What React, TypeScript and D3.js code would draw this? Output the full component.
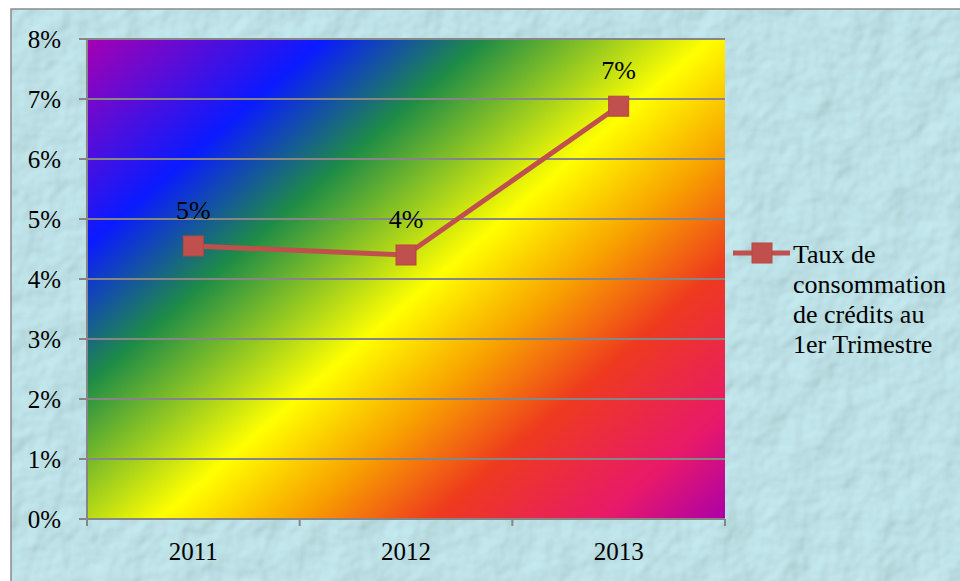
import React from "react";
import * as d3 from "d3";

const categories = ["2011", "2012", "2013"];
const values = [0.0455, 0.044, 0.0688];
const labels = ["5%", "4%", "7%"];
const yTicks = [0, 0.01, 0.02, 0.03, 0.04, 0.05, 0.06, 0.07, 0.08];
const seriesName = ["Taux de", "consommation", "de crédits au", "1er Trimestre"];
const gradientStops: [number, string][] = [
  [0, "#a600b2"],
  [0.2, "#0a1aff"],
  [0.335, "#1e8c46"],
  [0.525, "#ffff00"],
  [0.64, "#f8a200"],
  [0.755, "#ee3a1e"],
  [0.9, "#e8196a"],
  [1, "#ac00a8"],
];

const W = 960;
const H = 581;
const M = { left: 87, right: 725, top: 39, bottom: 519 };
const FONT = "Liberation Serif, Times New Roman, DejaVu Serif, serif";

export default function App() {
  const x = d3.scaleBand<string>().domain(categories).range([M.left, M.right]).padding(0);
  const y = d3.scaleLinear().domain([0, 0.08]).range([M.bottom, M.top]);
  const cxOf = (i: number) => (x(categories[i]) as number) + x.bandwidth() / 2;
  const line = d3
    .line<number>()
    .x((_, i) => cxOf(i))
    .y((d) => y(d));
  const edges = [...categories.map((c) => x(c) as number), M.right];
  const gLen = 780;
  const gx2 = M.left + 0.656 * gLen;
  const gy2 = M.top + 0.754 * gLen;
  const txt = { fontFamily: FONT, fontSize: "25px", fill: "#000" } as React.CSSProperties;
  const txtL = { fontFamily: FONT, fontSize: "26px", fill: "#000" } as React.CSSProperties;
  return (
    <svg width={W} height={H} style={{ position: "absolute", left: 0, top: 0 }}>
      <defs>
        <linearGradient
          id="rainbow"
          gradientUnits="userSpaceOnUse"
          x1={M.left}
          y1={M.top}
          x2={gx2}
          y2={gy2}
        >
          {gradientStops.map(([o, c], i) => (
            <stop key={i} offset={o} stopColor={c} />
          ))}
        </linearGradient>
        <filter id="water" x="0" y="0" width="100%" height="100%">
          <feTurbulence type="fractalNoise" baseFrequency="0.03" numOctaves="3" seed="4" result="n" />
          <feDiffuseLighting in="n" lightingColor="#e4fbfd" surfaceScale="4" result="l">
            <feDistantLight azimuth="225" elevation="50" />
          </feDiffuseLighting>
          <feComposite in="l" in2="SourceGraphic" operator="in" />
        </filter>
      </defs>
      <rect x={0} y={0} width={W} height={H} fill="#ffffff" />
      <rect x={11} y={9} width={W} height={H} fill="#b3e2e9" />
      <rect x={11} y={9} width={W} height={H} fill="#b3e2e9" filter="url(#water)" opacity={0.4} />
      <rect x={11} y={9} width={W + 10} height={H + 10} fill="none" stroke="#8a8a8a" strokeWidth={1.5} />

      <rect x={M.left} y={M.top} width={M.right - M.left} height={M.bottom - M.top} fill="url(#rainbow)" />

      {yTicks.map((t) => (
        <g key={t}>
          <line x1={M.left - 8} x2={M.right} y1={y(t)} y2={y(t)} stroke="#868686" strokeWidth={2} />
          <text x={61} y={y(t) + 9} textAnchor="end" style={txt}>
            {d3.format(".0%")(t)}
          </text>
        </g>
      ))}
      <line x1={M.left} x2={M.left} y1={M.top} y2={M.bottom} stroke="#868686" strokeWidth={2} />
      {edges.map((e, i) => (
        <line key={i} x1={e} x2={e} y1={M.bottom} y2={M.bottom + 7} stroke="#868686" strokeWidth={2} />
      ))}
      {categories.map((c, i) => (
        <text key={c} x={cxOf(i)} y={560} textAnchor="middle" style={txt}>
          {c}
        </text>
      ))}

      <path d={line(values) || ""} fill="none" stroke="#c0504d" strokeWidth={5} />
      {values.map((v, i) => {
        const cx = cxOf(i);
        const cy = y(v);
        return (
          <g key={i}>
            <rect x={cx - 10} y={cy - 10} width={20} height={20} fill="#c0504d" stroke="#b9463f" strokeWidth={1} />
            <text x={cx} y={cy - 27} textAnchor="middle" style={txtL}>
              {labels[i]}
            </text>
          </g>
        );
      })}

      <line x1={733} x2={790} y1={253} y2={253} stroke="#c0504d" strokeWidth={5} />
      <rect x={752} y={243} width={20} height={20} fill="#c0504d" stroke="#b9463f" strokeWidth={1} />
      {seriesName.map((s, i) => (
        <text key={i} x={793} y={263 + i * 30} style={txtL}>
          {s}
        </text>
      ))}
    </svg>
  );
}
